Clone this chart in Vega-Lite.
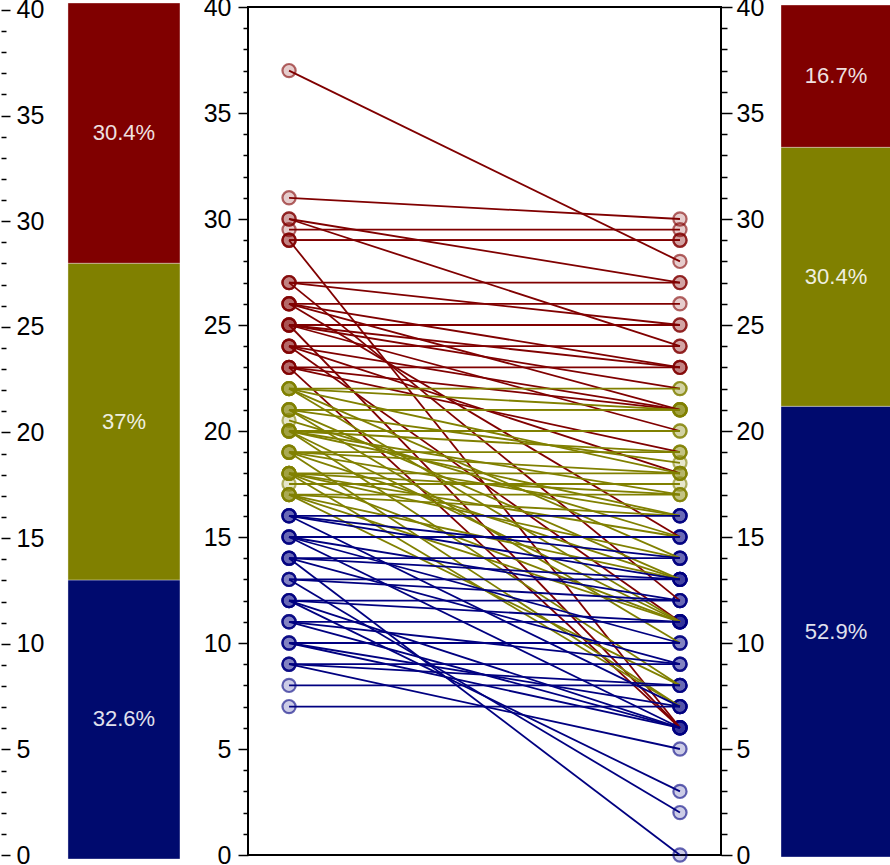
{
  "$schema": "https://vega.github.io/schema/vega-lite/v6.json",
  "padding": {"top": -6, "left": 0, "right": 0, "bottom": 0},
  "spacing": 60,
  "bounds": "flush",
  "center": true,
  "config": {
    "font": "Liberation Sans",
    "view": {"stroke": null},
    "axis": {"labelFont": "Liberation Sans", "labelFontSize": 25, "labelColor": "black", "tickColor": "black", "tickWidth": 1.5, "domain": false, "grid": false, "title": null}
  },
  "resolve": {"scale": {"color": "independent", "stroke": "independent", "y": "independent"}},
  "datasets": {
    "bars": [
      {"side": "before", "grp": "a", "k": 1, "pct": 0.326},
      {"side": "before", "grp": "b", "k": 2, "pct": 0.37},
      {"side": "before", "grp": "c", "k": 3, "pct": 0.304},
      {"side": "after", "grp": "a", "k": 1, "pct": 0.529},
      {"side": "after", "grp": "b", "k": 2, "pct": 0.304},
      {"side": "after", "grp": "c", "k": 3, "pct": 0.167}
    ],
    "pairs": [
      {"id": 1, "before": 37, "after": 28},
      {"id": 2, "before": 31, "after": 30},
      {"id": 3, "before": 30, "after": 27},
      {"id": 4, "before": 30, "after": 24},
      {"id": 5, "before": 29.5, "after": 29.5},
      {"id": 6, "before": 29, "after": 29},
      {"id": 7, "before": 29, "after": 29},
      {"id": 8, "before": 29, "after": 6},
      {"id": 9, "before": 27, "after": 27},
      {"id": 10, "before": 27, "after": 25},
      {"id": 11, "before": 27, "after": 12},
      {"id": 12, "before": 26, "after": 26},
      {"id": 13, "before": 26, "after": 23},
      {"id": 14, "before": 26, "after": 21},
      {"id": 15, "before": 26, "after": 15},
      {"id": 16, "before": 25, "after": 25},
      {"id": 17, "before": 25, "after": 23},
      {"id": 18, "before": 25, "after": 22},
      {"id": 19, "before": 25, "after": 20},
      {"id": 20, "before": 25, "after": 6},
      {"id": 21, "before": 24, "after": 24},
      {"id": 22, "before": 24, "after": 21},
      {"id": 23, "before": 24, "after": 18},
      {"id": 24, "before": 24, "after": 11},
      {"id": 25, "before": 23, "after": 23},
      {"id": 26, "before": 23, "after": 21},
      {"id": 27, "before": 23, "after": 19},
      {"id": 28, "before": 23, "after": 6},
      {"id": 29, "before": 22, "after": 22},
      {"id": 30, "before": 22, "after": 21},
      {"id": 31, "before": 22, "after": 18},
      {"id": 32, "before": 22, "after": 14},
      {"id": 33, "before": 22, "after": 11},
      {"id": 34, "before": 21, "after": 21},
      {"id": 35, "before": 21, "after": 21},
      {"id": 36, "before": 21, "after": 18.5},
      {"id": 37, "before": 21, "after": 13},
      {"id": 38, "before": 21, "after": 10},
      {"id": 39, "before": 20.5, "after": 15},
      {"id": 40, "before": 20, "after": 20},
      {"id": 41, "before": 20, "after": 19},
      {"id": 42, "before": 20, "after": 17},
      {"id": 43, "before": 20, "after": 16},
      {"id": 44, "before": 20, "after": 11},
      {"id": 45, "before": 20, "after": 8},
      {"id": 46, "before": 19, "after": 19},
      {"id": 47, "before": 19, "after": 18},
      {"id": 48, "before": 19, "after": 16},
      {"id": 49, "before": 19, "after": 13},
      {"id": 50, "before": 19, "after": 7},
      {"id": 51, "before": 18, "after": 18},
      {"id": 52, "before": 18, "after": 17},
      {"id": 53, "before": 18, "after": 15},
      {"id": 54, "before": 18, "after": 14},
      {"id": 55, "before": 18, "after": 11},
      {"id": 56, "before": 18, "after": 7},
      {"id": 57, "before": 17.5, "after": 17.5},
      {"id": 58, "before": 17, "after": 17},
      {"id": 59, "before": 17, "after": 16},
      {"id": 60, "before": 17, "after": 13},
      {"id": 61, "before": 17, "after": 11},
      {"id": 62, "before": 17, "after": 8},
      {"id": 63, "before": 16, "after": 16},
      {"id": 64, "before": 16, "after": 14},
      {"id": 65, "before": 16, "after": 13},
      {"id": 66, "before": 16, "after": 7},
      {"id": 67, "before": 15, "after": 15},
      {"id": 68, "before": 15, "after": 12},
      {"id": 69, "before": 15, "after": 10},
      {"id": 70, "before": 15, "after": 6},
      {"id": 71, "before": 14, "after": 14},
      {"id": 72, "before": 14, "after": 13},
      {"id": 73, "before": 14, "after": 9},
      {"id": 74, "before": 14, "after": 0},
      {"id": 75, "before": 13, "after": 13},
      {"id": 76, "before": 13, "after": 12},
      {"id": 77, "before": 13, "after": 2},
      {"id": 78, "before": 12, "after": 12},
      {"id": 79, "before": 12, "after": 11},
      {"id": 80, "before": 12, "after": 3},
      {"id": 81, "before": 12, "after": 6},
      {"id": 82, "before": 11, "after": 11},
      {"id": 83, "before": 11, "after": 9},
      {"id": 84, "before": 11, "after": 6},
      {"id": 85, "before": 10, "after": 10},
      {"id": 86, "before": 10, "after": 7},
      {"id": 87, "before": 10, "after": 6},
      {"id": 88, "before": 9, "after": 9},
      {"id": 89, "before": 9, "after": 8},
      {"id": 90, "before": 9, "after": 5},
      {"id": 91, "before": 8, "after": 8},
      {"id": 92, "before": 7, "after": 7}
    ]
  },
  "hconcat": [
    {
      "width": 187,
      "height": 856,
      "data": {"name": "bars"},
      "transform": [{"filter": "datum.side === 'before'"}],
      "layer": [
        {
          "mark": {"type": "bar", "stroke": "white", "strokeOpacity": 0.35, "strokeWidth": 1},
          "encoding": {
            "x": {"field": "side", "type": "nominal", "axis": null, "scale": {"paddingInner": 0, "paddingOuter": 0.3348, "align": 0.893}},
            "y": {"field": "pct", "type": "quantitative", "stack": "zero", "axis": null, "scale": {"domain": [0, 1], "nice": false}},
            "color": {"field": "grp", "type": "nominal", "legend": null, "scale": {"domain": ["a", "b", "c"], "range": ["#000a6e", "#808000", "#800000"]}},
            "order": {"field": "k", "type": "quantitative"}
          }
        },
        {
          "mark": {"type": "text", "fontSize": 22, "color": "white", "opacity": 0.88},
          "encoding": {
            "x": {"field": "side", "type": "nominal", "axis": null, "scale": {"paddingInner": 0, "paddingOuter": 0.3348, "align": 0.893}},
            "y": {"field": "pct", "type": "quantitative", "stack": "zero", "bandPosition": 0.5, "axis": null, "scale": {"domain": [0, 1], "nice": false}},
            "detail": {"field": "grp"},
            "order": {"field": "k", "type": "quantitative"},
            "text": {"field": "pct", "type": "quantitative", "format": ".1~%"}
          }
        },
        {
          "mark": {"type": "rule", "opacity": 0},
          "encoding": {
            "y": {
              "datum": 0,
              "type": "quantitative",
              "scale": {"domain": [-0.189, 40.331], "nice": false, "zero": false},
              "axis": {
                "orient": "right",
                "offset": -187,
                "values": [0,1,2,3,4,5,6,7,8,9,10,11,12,13,14,15,16,17,18,19,20,21,22,23,24,25,26,27,28,29,30,31,32,33,34,35,36,37,38,39,40],
                "tickSize": {"condition": {"test": "datum.value % 5 === 0", "value": 9}, "value": 5},
                "labelExpr": "datum.value % 5 === 0 ? datum.label : ''",
                "labelPadding": 6
              }
            }
          }
        }
      ],
      "resolve": {"scale": {"y": "independent"}}
    },
    {
      "width": 473,
      "height": 848,
      "view": {"stroke": "black", "strokeWidth": 2},
      "data": {"name": "pairs"},
      "transform": [{"fold": ["before", "after"], "as": ["t", "v"]}],
      "layer": [
        {
          "mark": {"type": "circle", "size": 175, "opacity": 1, "fillOpacity": 0.2, "strokeOpacity": 0.6, "strokeWidth": 2.2},
          "encoding": {
            "x": {"field": "t", "type": "nominal", "axis": null, "scale": {"type": "point", "domain": ["before", "after"], "padding": 0.105}},
            "y": {
              "field": "v",
              "type": "quantitative",
              "scale": {"domain": [0, 40], "nice": false},
              "axis": {
                "orient": "right",
                "values": [0,1,2,3,4,5,6,7,8,9,10,11,12,13,14,15,16,17,18,19,20,21,22,23,24,25,26,27,28,29,30,31,32,33,34,35,36,37,38,39,40],
                "tickSize": {"condition": {"test": "datum.value % 5 === 0", "value": 11}, "value": 6},
                "labelExpr": "datum.value % 5 === 0 ? datum.label : ''",
                "labelPadding": 4
              }
            },
            "color": {"field": "v", "type": "quantitative", "legend": null, "scale": {"type": "threshold", "domain": [16.5, 22.5], "range": ["#000080", "#808000", "#800000"]}},
            "stroke": {"field": "v", "type": "quantitative", "legend": null, "scale": {"type": "threshold", "domain": [16.5, 22.5], "range": ["#000080", "#808000", "#800000"]}}
          }
        },
        {
          "mark": {"type": "line", "strokeWidth": 1.8, "opacity": 1},
          "encoding": {
            "x": {"field": "t", "type": "nominal", "axis": null, "scale": {"type": "point", "domain": ["before", "after"], "padding": 0.105}},
            "y": {
              "field": "v",
              "type": "quantitative",
              "scale": {"domain": [0, 40], "nice": false},
              "axis": {
                "orient": "left",
                "values": [0,1,2,3,4,5,6,7,8,9,10,11,12,13,14,15,16,17,18,19,20,21,22,23,24,25,26,27,28,29,30,31,32,33,34,35,36,37,38,39,40],
                "tickSize": {"condition": {"test": "datum.value % 5 === 0", "value": 10}, "value": 5},
                "labelExpr": "datum.value % 5 === 0 ? datum.label : ''",
                "labelPadding": 7
              }
            },
            "detail": {"field": "id", "type": "nominal"},
            "color": {"field": "before", "type": "quantitative", "legend": null, "scale": {"type": "threshold", "domain": [16.5, 22.5], "range": ["#000080", "#808000", "#800000"]}}
          }
        }
      ],
      "resolve": {"axis": {"y": "independent"}}
    },
    {
      "width": 110,
      "height": 852,
      "data": {"name": "bars"},
      "transform": [{"filter": "datum.side === 'after'"}],
      "layer": [
        {
          "mark": {"type": "bar", "stroke": "white", "strokeOpacity": 0.35, "strokeWidth": 1},
          "encoding": {
            "x": {"field": "side", "type": "nominal", "axis": null, "scale": {"paddingInner": 0, "paddingOuter": 0}},
            "y": {"field": "pct", "type": "quantitative", "stack": "zero", "axis": null, "scale": {"domain": [0, 1], "nice": false}},
            "color": {"field": "grp", "type": "nominal", "legend": null, "scale": {"domain": ["a", "b", "c"], "range": ["#000a6e", "#808000", "#800000"]}},
            "order": {"field": "k", "type": "quantitative"}
          }
        },
        {
          "mark": {"type": "text", "fontSize": 22, "color": "white", "opacity": 0.88},
          "encoding": {
            "x": {"field": "side", "type": "nominal", "axis": null, "scale": {"paddingInner": 0, "paddingOuter": 0}},
            "y": {"field": "pct", "type": "quantitative", "stack": "zero", "bandPosition": 0.5, "axis": null, "scale": {"domain": [0, 1], "nice": false}},
            "detail": {"field": "grp"},
            "order": {"field": "k", "type": "quantitative"},
            "text": {"field": "pct", "type": "quantitative", "format": ".1~%"}
          }
        }
      ]
    }
  ]
}
